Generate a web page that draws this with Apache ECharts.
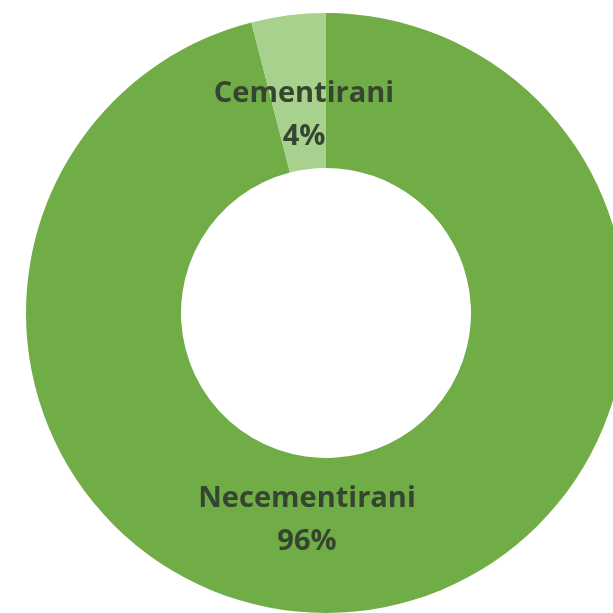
<!DOCTYPE html>
<html>
<head>
<meta charset="utf-8">
<script src="https://cdn.jsdelivr.net/npm/echarts@6/dist/echarts.min.js"></script>
<style>
  html, body { margin: 0; padding: 0; background: #ffffff; }
  #chart { width: 613px; height: 613px; }
</style>
</head>
<body>
<div id="chart"></div>
<script>
// Share of cemented vs non-cemented implants
const categories = ['Necementirani', 'Cementirani'];
const values = [96, 4];
const sliceColors = ['#70AD47', '#A9D18E'];

// Label anchor points (px) for each slice, in category order
const labelAnchors = [[307, 520], [304, 115]];

const chart = echarts.init(document.getElementById('chart'), null, { renderer: 'canvas' });

chart.setOption({
  backgroundColor: '#ffffff',
  animation: false,
  series: [{
    type: 'pie',
    center: [326, 313],
    radius: [145, 300],
    startAngle: 90,
    clockwise: true,
    avoidLabelOverlap: false,
    data: categories.map((name, i) => ({
      name: name,
      value: values[i],
      itemStyle: { color: sliceColors[i] }
    })),
    label: {
      show: true,
      position: 'inside',
      formatter: '{b}\n{d}%',
      fontFamily: 'Open Sans',
      fontWeight: 'bold',
      fontSize: 29,
      lineHeight: 43,
      color: '#354530',
      align: 'center'
    },
    labelLine: { show: false },
    labelLayout: function (params) {
      const p = labelAnchors[params.dataIndex];
      return { x: p[0], y: p[1], align: 'center', verticalAlign: 'middle' };
    },
    emphasis: { disabled: true }
  }]
});
</script>
</body>
</html>
